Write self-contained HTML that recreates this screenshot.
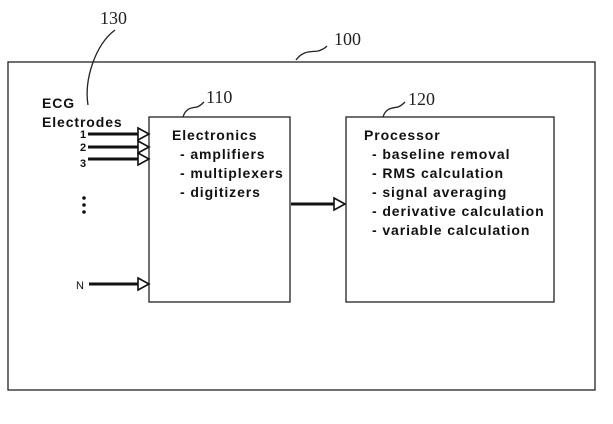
<!DOCTYPE html>
<html><head><style>
body{margin:0;background:#fff;}
svg text{font-family:"Liberation Sans",sans-serif;font-weight:bold;font-size:14px;letter-spacing:0.9px;fill:#111;}
.h{font-family:"Liberation Serif",serif;font-weight:normal;font-size:18px;letter-spacing:0;fill:#222;}
</style></head><body>
<svg width="613" height="419" viewBox="0 0 613 419" xmlns="http://www.w3.org/2000/svg">
<g fill="none" stroke="#222" stroke-width="1.3">
<rect x="8" y="62" width="587" height="328"/>
<rect x="149" y="117" width="141" height="185"/>
<rect x="346" y="117" width="208" height="185"/>
<path d="M88 105 C84 80 95 45 115 30"/>
<path d="M296 60 C303 50 312 52 318 51 C322 50 325 48 327 46"/>
<path d="M183 117 C186 107 193 108 197 107 C200 106 202 104 204 102"/>
<path d="M383 117 C386 107 394 108 398 107 C401 106 403 104 405 102"/>
</g>
<g stroke="#111" stroke-width="3">
<line x1="88" y1="134" x2="139" y2="134"/>
<line x1="88" y1="147" x2="139" y2="147"/>
<line x1="88" y1="159" x2="139" y2="159"/>
<line x1="89" y1="284" x2="139" y2="284"/>
<line x1="291" y1="204" x2="334" y2="204"/>
</g>
<g fill="#fff" stroke="#111" stroke-width="1.6">
<path d="M138 128 L149 134 L138 140 Z"/>
<path d="M138 141 L149 147 L138 153 Z"/>
<path d="M138 153 L149 159 L138 165 Z"/>
<path d="M138 278 L149 284 L138 290 Z"/>
<path d="M334 198 L345 204 L334 210 Z"/>
</g>
<g fill="#111"><circle cx="84" cy="198" r="1.8"/><circle cx="84" cy="205" r="1.8"/><circle cx="84" cy="212" r="1.8"/></g>
<text x="42" y="108">ECG</text>
<text x="42" y="127">Electrodes</text>
<text x="80" y="138" style="font-size:11px;letter-spacing:0">1</text>
<text x="80" y="151" style="font-size:11px;letter-spacing:0">2</text>
<text x="80" y="167" style="font-size:11px;letter-spacing:0">3</text>
<text x="76" y="289" style="font-size:11px;font-weight:normal;letter-spacing:0">N</text>
<text x="172" y="140">Electronics</text>
<text x="180" y="159">- amplifiers</text>
<text x="180" y="178">- multiplexers</text>
<text x="180" y="197">- digitizers</text>
<text x="364" y="140">Processor</text>
<text x="372" y="159">- baseline removal</text>
<text x="372" y="178">- RMS calculation</text>
<text x="372" y="197">- signal averaging</text>
<text x="372" y="216">- derivative calculation</text>
<text x="372" y="235">- variable calculation</text>
<text class="h" x="100" y="24">130</text>
<text class="h" x="334" y="45">100</text>
<text class="h" x="206" y="103">110</text>
<text class="h" x="408" y="105">120</text>
</svg>
</body></html>
